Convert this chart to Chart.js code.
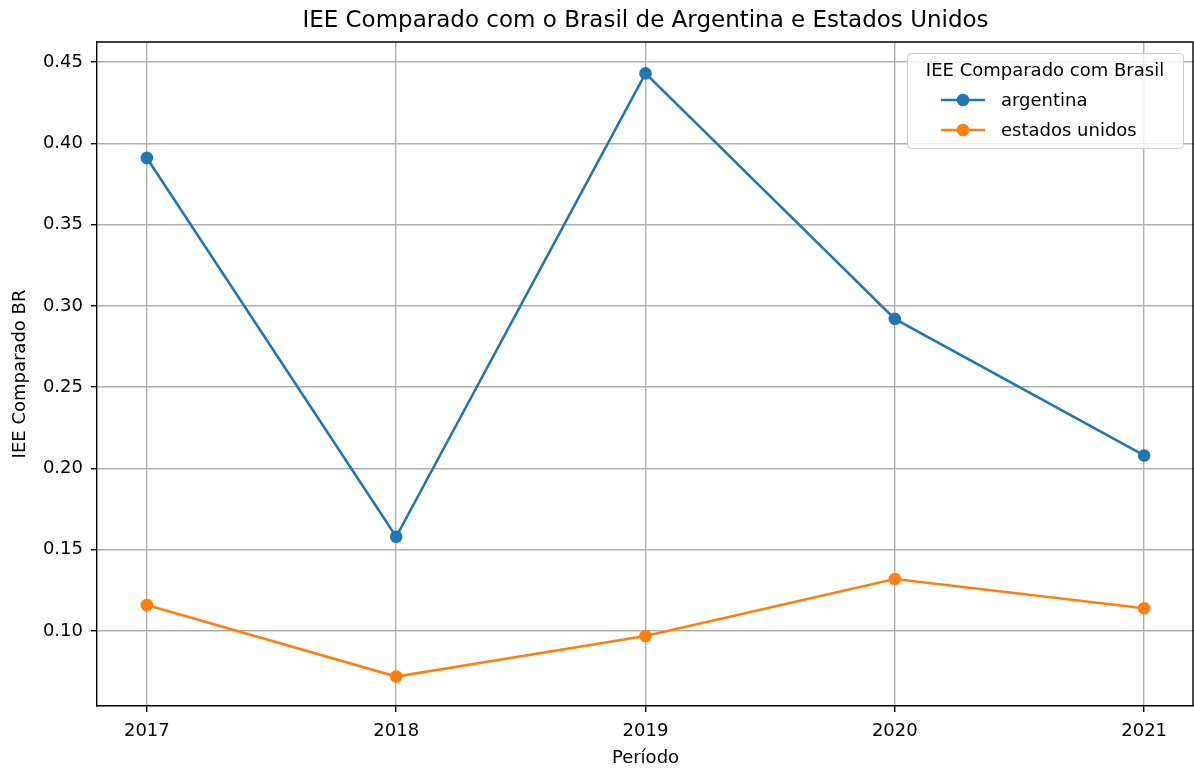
<!DOCTYPE html>
<html>
<head>
<meta charset="utf-8">
<title>IEE Comparado</title>
<script src="https://cdn.jsdelivr.net/npm/chart.js@4.4.1/dist/chart.umd.min.js"></script>
<style>
  html, body { margin: 0; padding: 0; background: #fff; }
  #wrap { width: 1194px; height: 769px; }
</style>
</head>
<body>
<div id="wrap"><canvas id="myChart" width="1194" height="769"></canvas></div>
<script>
const years = [2017, 2018, 2019, 2020, 2021];
const argentina = [0.391, 0.158, 0.443, 0.292, 0.208];
const estadosUnidos = [0.116, 0.072, 0.097, 0.132, 0.114];
const yTicks = [0.10, 0.15, 0.20, 0.25, 0.30, 0.35, 0.40, 0.45];

const FONT = "'DejaVu Sans', sans-serif";

const toPoints = (values) => years.map((y, i) => ({ x: y, y: values[i] }));

// title centred on the plot area, like matplotlib
const titlePlugin = {
  id: 'axesTitle',
  afterDraw(chart) {
    const { ctx, chartArea } = chart;
    ctx.save();
    ctx.font = '23px ' + FONT;
    ctx.fillStyle = '#000';
    ctx.textAlign = 'center';
    ctx.textBaseline = 'middle';
    ctx.fillText('IEE Comparado com o Brasil de Argentina e Estados Unidos',
      (chartArea.left + chartArea.right) / 2, 21);
    ctx.restore();
  }
};

// top and right spines
const framePlugin = {
  id: 'frame',
  beforeDatasetsDraw(chart) {
    const { ctx, chartArea } = chart;
    ctx.save();
    ctx.strokeStyle = '#000';
    ctx.lineWidth = 1.4;
    ctx.beginPath();
    ctx.moveTo(chartArea.left, chartArea.top);
    ctx.lineTo(chartArea.right - 1, chartArea.top);
    ctx.lineTo(chartArea.right - 1, chartArea.bottom);
    ctx.stroke();
    ctx.restore();
  }
};

// matplotlib-like legend box with title
const legendPlugin = {
  id: 'mplLegend',
  afterDraw(chart) {
    const { ctx, chartArea } = chart;
    const boxW = 276, boxH = 95;
    const x0 = chartArea.right - 11 - boxW;
    const y0 = chartArea.top + 11;
    ctx.save();
    ctx.fillStyle = 'rgba(255,255,255,0.8)';
    ctx.strokeStyle = '#cccccc';
    ctx.lineWidth = 1;
    ctx.beginPath();
    ctx.roundRect(x0 + 0.5, y0 + 0.5, boxW, boxH, 4);
    ctx.fill();
    ctx.stroke();

    ctx.fillStyle = '#000';
    ctx.font = '18px ' + FONT;
    ctx.textBaseline = 'middle';
    ctx.textAlign = 'center';
    ctx.fillText('IEE Comparado com Brasil', x0 + boxW / 2, y0 + 18);

    ctx.textAlign = 'left';
    chart.data.datasets.forEach((ds, i) => {
      const cy = y0 + 47 + i * 30;
      ctx.strokeStyle = ds.borderColor;
      ctx.lineWidth = 2.6;
      ctx.beginPath();
      ctx.moveTo(x0 + 34, cy);
      ctx.lineTo(x0 + 78, cy);
      ctx.stroke();
      ctx.fillStyle = ds.backgroundColor;
      ctx.beginPath();
      ctx.arc(x0 + 56, cy, 6.3, 0, Math.PI * 2);
      ctx.fill();
      ctx.fillStyle = '#000';
      ctx.fillText(ds.label, x0 + 94, cy + 1);
    });
    ctx.restore();
  }
};

const configureData = () => {
  return {
    datasets: [{
      label: 'argentina',
      data: toPoints(argentina),
      borderColor: '#1f77b4',
      backgroundColor: '#1f77b4',
      borderWidth: 2.6,
      pointRadius: 6.3,
      pointHoverRadius: 6.3,
      pointBorderWidth: 0,
      tension: 0
    }, {
      label: 'estados unidos',
      data: toPoints(estadosUnidos),
      borderColor: '#ff7f0e',
      backgroundColor: '#ff7f0e',
      borderWidth: 2.6,
      pointRadius: 6.3,
      pointHoverRadius: 6.3,
      pointBorderWidth: 0,
      tension: 0
    }]
  }
};

const configureChart = (data) => {
  return {
    type: 'line',
    data: data,
    plugins: [titlePlugin, framePlugin, legendPlugin],
    options: {
      responsive: false,
      animation: false,
      layout: {
        autoPadding: false,
        padding: { top: 42, right: 0, bottom: 0, left: 0 }
      },
      plugins: {
        legend: { display: false },
        title: { display: false },
        tooltip: { enabled: false }
      },
      scales: {
        x: {
          type: 'linear',
          min: 2016.8,
          max: 2021.2,
          afterBuildTicks: (scale) => {
            scale.ticks = years.map((v) => ({ value: v }));
          },
          afterFit: (scale) => {
            scale.height = 63;
            scale.paddingLeft = 0;
            scale.paddingRight = 0;
          },
          ticks: {
            color: '#000',
            font: { family: FONT, size: 18 },
            padding: 9,
            maxRotation: 0,
            callback: (v) => String(v)
          },
          grid: {
            color: '#b0b0b0',
            lineWidth: 1.4,
            tickColor: '#000',
            tickLength: 6
          },
          border: { color: '#000', width: 1.4 },
          title: {
            display: true,
            text: 'Período',
            color: '#000',
            font: { family: FONT, size: 18 },
            padding: { top: 0, bottom: 0 }
          }
        },
        y: {
          min: 0.0539,
          max: 0.4623,
          afterBuildTicks: (scale) => {
            scale.ticks = yTicks.map((v) => ({ value: v }));
          },
          afterFit: (scale) => { scale.width = 97; },
          ticks: {
            color: '#000',
            font: { family: FONT, size: 18 },
            padding: 8,
            callback: (v) => v.toFixed(2)
          },
          grid: {
            color: '#b0b0b0',
            lineWidth: 1.4,
            tickColor: '#000',
            tickLength: 6
          },
          border: { color: '#000', width: 1.4 },
          title: {
            display: true,
            text: 'IEE Comparado BR',
            color: '#000',
            font: { family: FONT, size: 18 },
            padding: { top: 10, bottom: 0 }
          }
        }
      }
    }
  }
};

const renderChart = () => {
  const ctx = document.getElementById('myChart');
  const data = configureData();
  const chartConfigurations = configureChart(data);
  const myChart = new Chart(ctx, chartConfigurations);
};

window.onload = () => {
  renderChart();
};
</script>
</body>
</html>
